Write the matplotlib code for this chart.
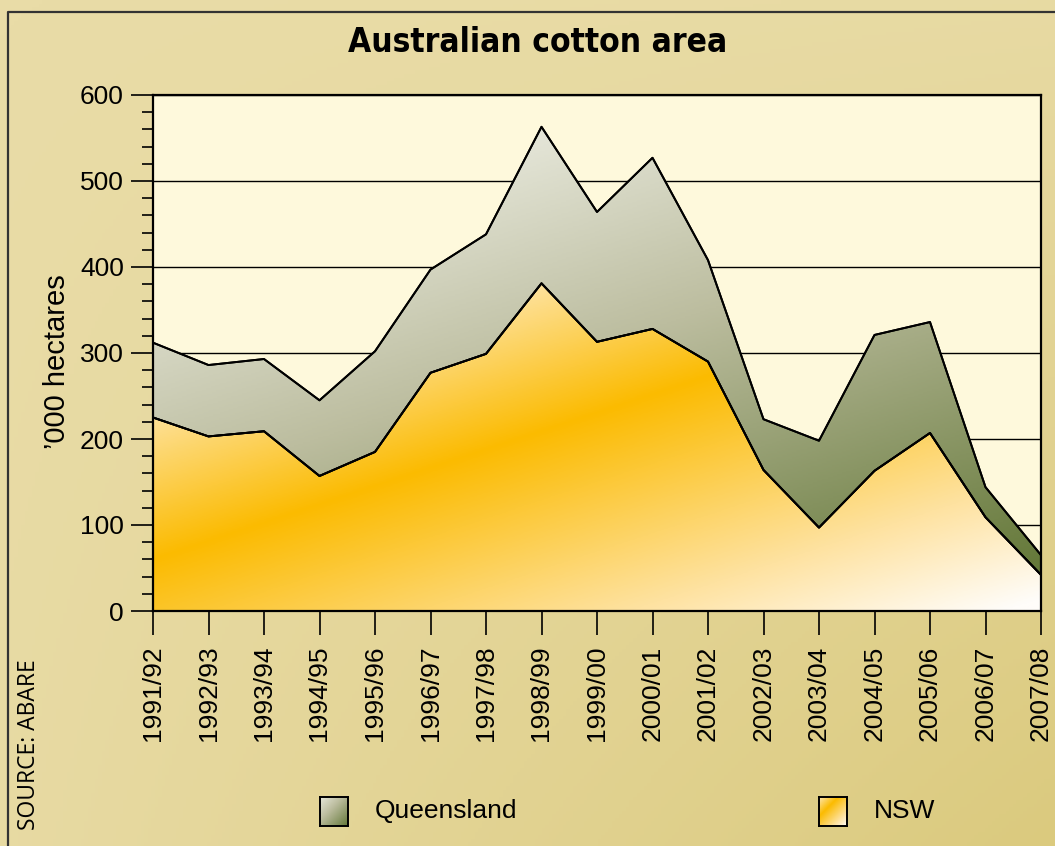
import numpy as np
import matplotlib
matplotlib.use("Agg")
import matplotlib.pyplot as plt
from matplotlib.colors import LinearSegmentedColormap

# data ('000 hectares)
seasons = ["1991/92", "1992/93", "1993/94", "1994/95", "1995/96", "1996/97",
           "1997/98", "1998/99", "1999/00", "2000/01", "2001/02", "2002/03",
           "2003/04", "2004/05", "2005/06", "2006/07", "2007/08"]
nsw = [225, 203, 209, 157, 185, 277, 299, 381, 313, 328, 290, 164, 97, 163, 207, 109, 42]
queensland = [87, 83, 84, 88, 117, 120, 139, 182, 151, 199, 118, 59, 101, 158, 129, 35, 23]

W, H = 1055, 846
plt.rcParams['font.family'] = ['Liberation Sans', 'DejaVu Sans']

nsw_cmap = LinearSegmentedColormap.from_list(
    "nsw", [(0.0, "#fee6ae"), (0.33, "#fbbb00"), (0.75, "#fee2a0"), (1.0, "#fffdfa")])
qld_cmap = LinearSegmentedColormap.from_list(
    "qld", [(0.0, "#e6e7da"), (0.4, "#bcbd9f"), (1.0, "#65793a")])
bg_cmap = LinearSegmentedColormap.from_list("bg", ["#e9dca7", "#dbca7e"])

fig = plt.figure(figsize=(W / 100, H / 100), dpi=100)

# figure background with gradient and border
bg = fig.add_axes([0, 0, 1, 1], zorder=-10)
gx, gy = np.meshgrid(np.linspace(0, 1, 300), np.linspace(0, 1, 240))
bg.imshow(0.1 * gx + 0.1 * gy + 0.8 * gx * gy, cmap=bg_cmap, vmin=0, vmax=1,
          aspect="auto", extent=[0, W, H, 0])
bg.plot([8, 8, W], [H, 12, 12], color="#333333", lw=1.6)
bg.set_xlim(0, W)
bg.set_ylim(H, 0)
bg.axis("off")

left, right, top, bottom = 153, 1041, 95, 611
ax = fig.add_axes([left / W, 1 - bottom / H, (right - left) / W, (bottom - top) / H])
ax.set_facecolor("#fef9dc")

x = np.arange(len(seasons))
total = np.array(nsw) + np.array(queensland)
n = len(seasons) - 1
px_x = (right - left) / n
px_y = (bottom - top) / 600.0


def gradient_fill(lower, upper, cmap, u0, u1):
    poly = ax.fill_between(x, lower, upper, facecolor="none", edgecolor="black",
                           lw=1.4, zorder=3)
    ymax = max(upper)
    xs = np.linspace(0, n, 400)
    ys = np.linspace(ymax, 0, 300)
    XX, YY = np.meshgrid(xs, ys)
    # colour bands run slanted; measure position in screen pixels
    u = 0.33 * (left + XX * px_x) + (bottom - YY * px_y)
    t = (u - u0) / (u1 - u0)
    im = ax.imshow(t, cmap=cmap, vmin=0, vmax=1, aspect="auto", origin="upper",
                   extent=[0, n, 0, ymax], zorder=2)
    im.set_clip_path(poly.get_paths()[0], transform=ax.transData)


gradient_fill(nsw, total, qld_cmap, 300, 908)
gradient_fill(0, nsw, nsw_cmap, 445, 944)
ax.plot(x, total, color="black", lw=1.4, zorder=4)
ax.plot(x, nsw, color="black", lw=1.4, zorder=4)
ax.set_xlim(0, n)
ax.set_ylim(0, 600)

ax.set_yticks(np.arange(0, 601, 100))
ax.set_yticks(np.arange(0, 601, 20), minor=True)
ax.grid(axis="y", color="black", lw=1.0, zorder=1)
ax.set_axisbelow(True)
ax.set_xticks(x)
ax.set_xticklabels(seasons, rotation=90)
ax.tick_params(axis="x", length=17, width=1.2, pad=8, labelsize=19)
ax.tick_params(axis="y", which="major", length=16, width=1.2, pad=5, labelsize=19)
ax.tick_params(axis="y", which="minor", length=8, width=1.2)
for s in ax.spines.values():
    s.set_linewidth(1.6)
    s.set_zorder(5)

fig.text(57 / W, 1 - 362 / H, "\u2019000 hectares", rotation=90,
         ha="center", va="center", fontsize=21)
fig.text(538 / W, 1 - 43 / H, "Australian cotton area", ha="center", va="center",
         fontsize=24, fontweight="heavy", fontstretch="condensed", family="DejaVu Sans")
fig.text(29 / W, 1 - 745 / H, "SOURCE: ABARE", rotation=90, ha="center", va="center",
         fontsize=16.5, fontweight="medium", family="Open Sans")

# legend with gradient swatches
for bx, label, cmap in [(320, "Queensland", qld_cmap), (819, "NSW", nsw_cmap)]:
    lax = fig.add_axes([bx / W, 1 - 826 / H, 28 / W, 29 / H])
    sx, sy = np.meshgrid(np.linspace(0, 1, 40), np.linspace(0, 1, 40))
    lax.imshow((sx + sy) / 2, cmap=cmap, vmin=0, vmax=1, aspect="auto")
    lax.set_xticks([])
    lax.set_yticks([])
    for s in lax.spines.values():
        s.set_linewidth(1.4)
    fig.text((bx + 55) / W, 1 - 811 / H, label, ha="left", va="center", fontsize=19)

fig.savefig("out.png", dpi=100)
